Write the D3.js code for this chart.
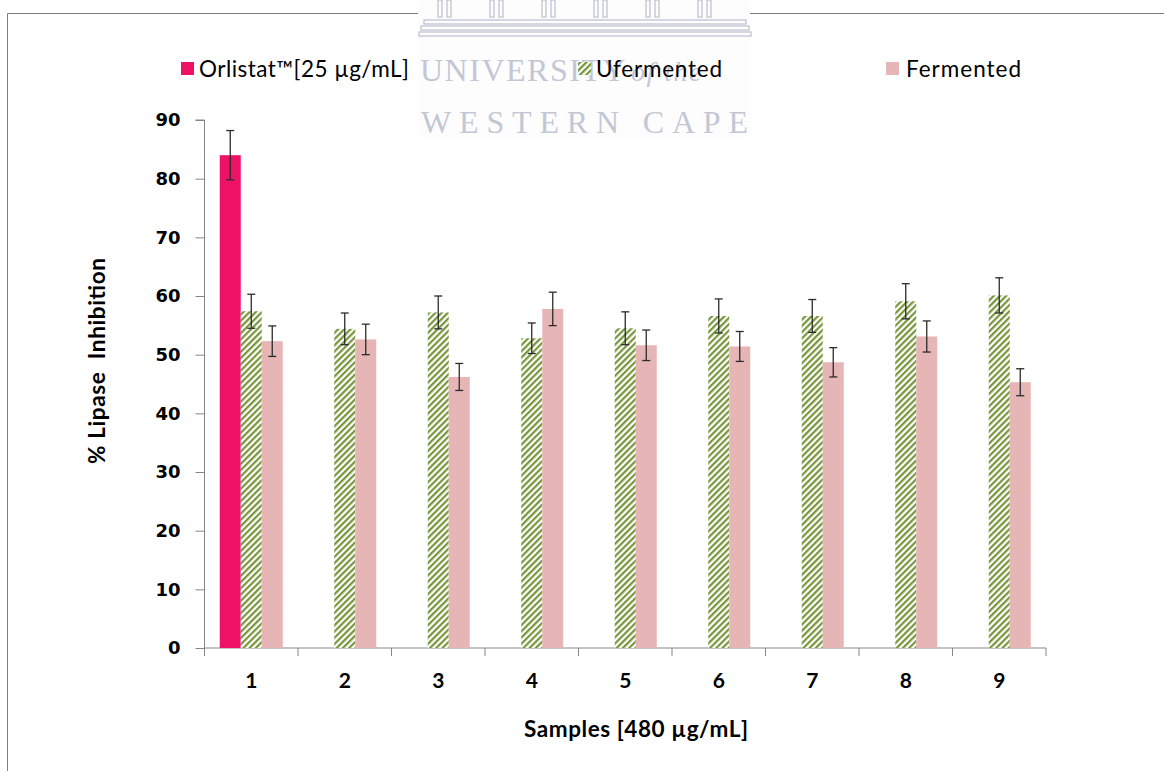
<!DOCTYPE html>
<html>
<head>
<meta charset="utf-8">
<script src="https://cdn.jsdelivr.net/npm/d3@7/dist/d3.min.js"></script>
<style>
  html, body { margin: 0; padding: 0; background: #fff; }
  svg { display: block; }
</style>
</head>
<body>
<svg id="chart" width="1164" height="771"></svg>
<script>
// Sample groups on the x axis
const samples = ["1", "2", "3", "4", "5", "6", "7", "8", "9"];

// Series names (legend order)
const seriesNames = ["Orlistat™[25 µg/mL]", "Ufermented", "Fermented"];

// % lipase inhibition: reference drug (only tested with sample 1)
const orlistat    = [84.0, null, null, null, null, null, null, null, null];
const orlistatErr = [4.2, null, null, null, null, null, null, null, null];

// Unfermented extracts
const ufermented    = [57.4, 54.4, 57.2, 52.8, 54.5, 56.6, 56.6, 59.1, 60.1];
const ufermentedErr = [2.9, 2.7, 2.8, 2.6, 2.8, 2.9, 2.8, 3.0, 3.0];

// Fermented extracts
const fermented    = [52.3, 52.6, 46.2, 57.8, 51.6, 51.4, 48.7, 53.1, 45.3];
const fermentedErr = [2.6, 2.6, 2.3, 2.85, 2.6, 2.55, 2.5, 2.65, 2.3];

// Y axis ticks
const yTicks = [0, 10, 20, 30, 40, 50, 60, 70, 80, 90];

const svg = d3.select("#chart");
const W = 1164, H = 771;

const plot = { left: 204.5, right: 1046, top: 120, bottom: 648 };

const x0 = d3.scaleBand().domain(samples).range([plot.left, plot.right]).paddingInner(0).paddingOuter(0);
const x1 = d3.scaleBand().domain(seriesNames).range([0, x0.bandwidth()]).paddingInner(0).paddingOuter(0.726);
const y = d3.scaleLinear().domain([0, 90]).range([plot.bottom, plot.top]);

const colors = {
  "Orlistat™[25 µg/mL]": "#ee1266",
  "Ufermented": "url(#hatch)",
  "Fermented": "#e6b5b5"
};

// Hatch pattern for the unfermented series
const defs = svg.append("defs");
const pat = defs.append("pattern")
  .attr("id", "hatch")
  .attr("patternUnits", "userSpaceOnUse")
  .attr("width", 4.4).attr("height", 4.4)
  .attr("patternTransform", "rotate(45)");
pat.append("rect").attr("width", 4.4).attr("height", 4.4).attr("fill", "#ffffff");
pat.append("rect").attr("x", 0).attr("y", 0).attr("width", 2.2).attr("height", 4.4).attr("fill", "#77953b");

// Frame lines
svg.append("line").attr("x1", 7.5).attr("y1", 13.5).attr("x2", W).attr("y2", 13.5)
  .attr("stroke", "#7f7f7f").attr("stroke-width", 1);
svg.append("line").attr("x1", 7.5).attr("y1", 13.5).attr("x2", 7.5).attr("y2", H)
  .attr("stroke", "#7f7f7f").attr("stroke-width", 1);

// Faint institutional mark behind the header
const wm = svg.append("g").attr("class", "watermark");
wm.append("rect").attr("x", 418).attr("y", 0).attr("width", 332).attr("height", 138).attr("fill", "#fdfdfe");
const wmColor = "#c3c7d5";
// building: column pairs and steps
const colX = d3.range(6).map(i => 438 + i * 52);
colX.forEach(cx => {
  wm.append("rect").attr("x", cx).attr("y", 0).attr("width", 4).attr("height", 17).attr("fill", "none").attr("stroke", wmColor).attr("stroke-width", 1.4);
  wm.append("rect").attr("x", cx + 9).attr("y", 0).attr("width", 4).attr("height", 17).attr("fill", "none").attr("stroke", wmColor).attr("stroke-width", 1.4);
});
[[424, 20, 322], [421, 26, 328], [419, 32, 332]].forEach(([sx, sy, sw]) => {
  wm.append("rect").attr("x", sx).attr("y", sy).attr("width", sw).attr("height", 4).attr("fill", "none").attr("stroke", wmColor).attr("stroke-width", 1.4);
});
const wmText = wm.append("text").attr("x", 420).attr("y", 81)
  .attr("font-family", "'Liberation Serif', 'DejaVu Serif', serif")
  .attr("font-size", 32).attr("fill", wmColor).attr("letter-spacing", 1.5);
wmText.append("tspan").text("UNIVERSITY");
wmText.append("tspan").attr("font-style", "italic").attr("font-size", 28).attr("dx", 4).text("of the");
wm.append("text").attr("x", 421).attr("y", 133)
  .attr("font-family", "'Liberation Serif', 'DejaVu Serif', serif")
  .attr("font-size", 32).attr("fill", wmColor)
  .attr("textLength", 327).attr("lengthAdjust", "spacing")
  .text("WESTERN CAPE");

// Legend
const legendPos = [
  { mx: 181, tx: 199, len: 210 },
  { mx: 578, tx: 596, len: 126 },
  { mx: 886, tx: 906, len: 115 }
];
const legend = svg.append("g").attr("class", "legend");
seriesNames.forEach((name, i) => {
  legend.append("rect")
    .attr("x", legendPos[i].mx).attr("y", 62).attr("width", 13).attr("height", 13)
    .attr("fill", colors[name]);
  legend.append("text")
    .attr("x", legendPos[i].tx).attr("y", 77)
    .attr("font-family", "Lato, 'Open Sans', sans-serif")
    .attr("font-size", 22.5)
    .attr("textLength", legendPos[i].len)
    .attr("lengthAdjust", "spacing")
    .attr("fill", "#000")
    .text(name);
});

// Y axis
const yAxis = d3.axisLeft(y).tickValues(yTicks).tickSize(9).tickPadding(15).tickFormat(d3.format("d"));
const gy = svg.append("g").attr("transform", `translate(${plot.left},0)`).call(yAxis);
gy.select(".domain").attr("stroke", "#868686").attr("d", `M-9,${plot.top}H0V${plot.bottom}`);
gy.selectAll(".tick line").attr("stroke", "#868686");
gy.selectAll(".tick text")
  .attr("font-family", "'DejaVu Sans', Verdana, sans-serif")
  .attr("font-weight", "bold")
  .attr("font-size", 18)
  .attr("fill", "#000");

// X axis: tick marks at group boundaries, labels at group centres
const gx = svg.append("g").attr("transform", `translate(0,${plot.bottom})`);
gx.append("line").attr("x1", plot.left).attr("x2", plot.right).attr("y1", 0).attr("y2", 0).attr("stroke", "#868686");
const bounds = samples.map(s => x0(s)).concat([x0(samples[samples.length - 1]) + x0.bandwidth()]);
gx.selectAll("line.tk").data(bounds).join("line").attr("class", "tk")
  .attr("x1", d => d).attr("x2", d => d).attr("y1", 0).attr("y2", 8).attr("stroke", "#868686");
gx.selectAll("text").data(samples).join("text")
  .attr("x", d => x0(d) + x0.bandwidth() / 2)
  .attr("y", 40)
  .attr("text-anchor", "middle")
  .attr("font-family", "Lato, 'Open Sans', sans-serif")
  .attr("font-weight", "bold")
  .attr("font-size", 21)
  .attr("fill", "#000")
  .text(d => d);

// Bars and error bars
const seriesData = [
  { name: seriesNames[0], vals: orlistat, errs: orlistatErr },
  { name: seriesNames[1], vals: ufermented, errs: ufermentedErr },
  { name: seriesNames[2], vals: fermented, errs: fermentedErr }
];
const rows = [];
seriesData.forEach(s => {
  samples.forEach((smp, i) => {
    if (s.vals[i] != null) rows.push({ sample: smp, series: s.name, v: s.vals[i], e: s.errs[i] });
  });
});

svg.append("g").selectAll("rect").data(rows).join("rect")
  .attr("x", d => x0(d.sample) + x1(d.series))
  .attr("y", d => y(d.v))
  .attr("width", x1.bandwidth())
  .attr("height", d => y(0) - y(d.v))
  .attr("fill", d => colors[d.series]);

const eb = svg.append("g").attr("stroke", "#2b2b2b").attr("stroke-width", 1.3).attr("fill", "none");
rows.forEach(d => {
  const cx = x0(d.sample) + x1(d.series) + x1.bandwidth() / 2;
  const yt = y(d.v + d.e), yb = y(d.v - d.e);
  eb.append("line").attr("x1", cx).attr("x2", cx).attr("y1", yt).attr("y2", yb);
  eb.append("line").attr("x1", cx - 4).attr("x2", cx + 4).attr("y1", yt).attr("y2", yt);
  eb.append("line").attr("x1", cx - 4).attr("x2", cx + 4).attr("y1", yb).attr("y2", yb);
});

// Axis titles
svg.append("text")
  .attr("transform", "translate(105,361) rotate(-90)")
  .attr("text-anchor", "middle")
  .attr("font-family", "Lato, 'Open Sans', sans-serif")
  .attr("font-weight", "bold")
  .attr("font-size", 22.5)
  .attr("textLength", 206)
  .attr("lengthAdjust", "spacing")
  .attr("fill", "#000")
  .attr("xml:space", "preserve")
  .text("% Lipase  Inhibition");

svg.append("text")
  .attr("x", 636).attr("y", 737)
  .attr("text-anchor", "middle")
  .attr("font-family", "Lato, 'Open Sans', sans-serif")
  .attr("font-weight", "bold")
  .attr("font-size", 22.5)
  .attr("textLength", 224)
  .attr("lengthAdjust", "spacing")
  .attr("fill", "#000")
  .text("Samples [480 µg/mL]");
</script>
</body>
</html>
